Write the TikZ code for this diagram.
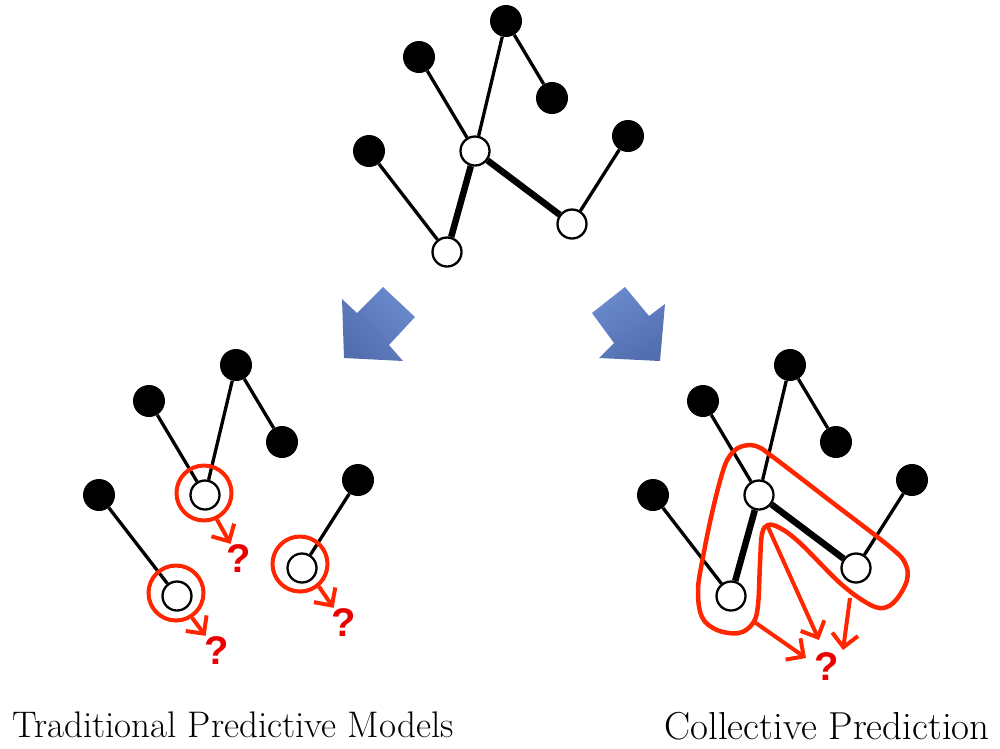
\documentclass[tikz,border=0pt]{standalone}
\usepackage{fontspec}
\newfontfamily\qfont{Liberation Sans}
\usetikzlibrary{arrows.meta}

\definecolor{redline}{RGB}{255,38,0}
\definecolor{qred}{RGB}{235,0,0}
\definecolor{arrowlight}{RGB}{106,138,206}
\definecolor{arrowdark}{RGB}{82,110,174}

\tikzset{
  leaf/.style={circle, fill=black, inner sep=0pt, minimum size=32pt},
  hub/.style={circle, draw=black, line width=2.3pt, fill=white, inner sep=0pt, minimum size=29pt},
  link/.style={line width=3.3pt},
  strong/.style={line width=6.5pt},
  ring/.style={circle, draw=redline, line width=4pt, inner sep=0pt, minimum size=55pt},
  query/.style={text=qred, font=\qfont\bfseries\fontsize{40}{40}\selectfont, inner sep=1pt},
  flow/.style={draw=redline, line width=4pt, -{Straight Barb[length=13pt, width=26pt]}},
  caption/.style={inner sep=0pt, anchor=base},
  bigarrow/.style={shading=axis, top color=arrowlight, bottom color=arrowdark},
}

% one copy of the network: leaves, hubs and the thin links
\newcommand\netbase{%
  \node[leaf] (a) at (506,21) {};
  \node[leaf] (b) at (419,57) {};
  \node[leaf] (c) at (552,98) {};
  \node[leaf] (d) at (369,151) {};
  \node[leaf] (e) at (628,136) {};
  \node[hub] (w1) at (475,151) {};
  \node[hub] (w2) at (447,252) {};
  \node[hub] (w3) at (572,224) {};
  \draw[link] (b) -- (w1);
  \draw[link] (a) -- (w1);
  \draw[link] (a) -- (c);
  \draw[link] (d) -- (w2);
  \draw[link] (e) -- (w3);
}
% the two strong links between hubs
\newcommand\netstrong{%
  \draw[strong] (w1) -- (w2);
  \draw[strong] (w1) -- (w3);
}

\begin{document}
\begin{tikzpicture}[x=1pt, y=-1pt]
\useasboundingbox (0,0) rectangle (1000,748);

% full network
\begin{scope}[name prefix=T-]
  \netbase
  \netstrong
\end{scope}

% block arrows
\shade[bigarrow, shading angle=-45] (342,299) -- (357,313) -- (383,287) -- (415,317)
  -- (389,345) -- (403,361) -- (344,358) -- cycle;
\shade[bigarrow, shading angle=30] (592,313) -- (625,287) -- (649,316) -- (665,304)
  -- (660,361) -- (599,358) -- (614,343) -- cycle;

% traditional models: each hub on its own
\begin{scope}[shift={(-270,344)}, name prefix=L-]
  \netbase
\end{scope}
\node[ring] (L-r1) at ([shift={(-1,-2)}]L-w1) {};
\node[ring] (L-r2) at ([shift={(-1,-3)}]L-w2) {};
\node[ring] (L-r3) at ([shift={(-2,-4)}]L-w3) {};
\node[query] (L-q1) at (239,559) {?};
\node[query] (L-q2) at (217,651) {?};
\node[query] (L-q3) at (344,623) {?};
\draw[flow] (L-r1.-64) -- (L-q1);
\draw[flow] (L-r2.-57) -- (L-q2);
\draw[flow] (L-r3.-50) -- (L-q3);

% collective prediction: hubs predicted jointly
\begin{scope}[shift={(284,344)}, name prefix=R-]
  \netbase
  \netstrong
\end{scope}
\draw[draw=redline, line width=4.5pt, line join=round]
  plot[smooth cycle, tension=0.6] coordinates {
    (756,446) (740,447) (729,457) (722,474) (712,513) (703,557) (698,590)
    (702,617) (717,630) (739,633) (753,623) (758,605) (760,563) (762,534)
    (768,525) (780,528) (800,543) (840,583) (867,603) (883,608) (896,600)
    (907,580) (905,563) (890,547) (833,503) (773,457)};
\node[query] (R-q) at (827,667) {?};
\coordinate (R-s1) at (753,621);
\coordinate (R-s2) at (768,527);
\coordinate (R-s3) at (850,598);
\coordinate (R-e1) at (806,658);
\coordinate (R-e2) at (819,640);
\coordinate (R-e3) at (843,650);
\draw[flow] (R-s1) -- (R-e1);
\draw[flow] (R-s2) -- (R-e2);
\draw[flow] (R-s3) -- (R-e3);

% captions
\node[caption, font=\fontsize{37}{44}\selectfont] (cap-l) at (233,737) {Traditional Predictive Models};
\node[caption, font=\fontsize{39}{46}\selectfont] (cap-r) at (827,739) {Collective Prediction};
\end{tikzpicture}
\end{document}
